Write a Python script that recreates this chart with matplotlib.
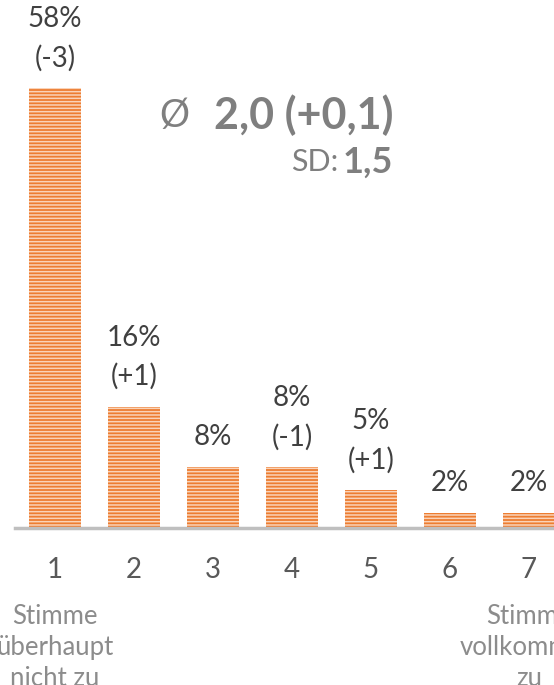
import matplotlib
matplotlib.use('Agg')
import matplotlib.pyplot as plt

plt.rcParams['font.family'] = ['Lato', 'DejaVu Sans']
plt.rcParams['hatch.linewidth'] = 1.1

# data
categories = ['1', '2', '3', '4', '5', '6', '7']
values = [58, 16, 8, 8, 5, 2, 2]
changes = ['(-3)', '(+1)', '', '(-1)', '(+1)', '', '']
low_label = 'Stimme\nüberhaupt\nnicht zu'
high_label = 'Stimme\nvollkommen\nzu'
mean_text = '2,0 (+0,1)'
sd_text = '1,5'

orange = '#ED7D31'
stripe = '#FAD3B8'
PX = 0.72  # points per pixel at dpi 100

fig = plt.figure(figsize=(5.54, 6.85), dpi=100)
ax = fig.add_axes([15/554, 157/685, 539/554, 528/685])

x = list(range(len(categories)))
ax.bar(x, values, width=0.67, color=orange, edgecolor=stripe, linewidth=0, hatch='-----')
ax.set_xlim(-0.506, 6.316)
ax.set_ylim(0, 69.6)

for s in ['top', 'right', 'left']:
    ax.spines[s].set_visible(False)
ax.spines['bottom'].set_color('#BFBFBF')
ax.spines['bottom'].set_linewidth(2.5)
ax.set_yticks([])
ax.set_xticks([])

# category numbers
for i, c in enumerate(categories):
    ax.annotate(c, (i, 0), xytext=(0, -42*PX), textcoords='offset points',
                ha='center', va='center', fontsize=20, color='#595959',
                annotation_clip=False)

# value labels
for i, v in enumerate(values):
    if changes[i]:
        ax.annotate(f'{v}%', (i, v), xytext=(0, 69*PX), textcoords='offset points',
                    ha='center', va='center', fontsize=20, color='#404040')
        ax.annotate(changes[i], (i, v), xytext=(0, 30*PX), textcoords='offset points',
                    ha='center', va='center', fontsize=20, color='#404040')
    else:
        ax.annotate(f'{v}%', (i, v), xytext=(0, 30*PX), textcoords='offset points',
                    ha='center', va='center', fontsize=20, color='#404040')

# scale end labels
for i, lab in [(0, low_label), (6, high_label)]:
    ax.annotate(lab, (i, 0), xytext=(0, -76*PX), textcoords='offset points',
                ha='center', va='top', fontsize=18.5, color='#8C8C8C', linespacing=1.3,
                annotation_clip=False)

# mean / sd box
grey = '#7F7F7F'
fig.text(174/554, 1 - 116/685, 'Ø', ha='center', va='center', fontsize=27, color=grey)
fig.text(393/554, 1 - 115/685, mean_text, ha='right', va='center', fontsize=31,
         fontweight='bold', color=grey)
fig.text(393/554, 1 - 162/685, sd_text, ha='right', va='center', fontsize=26,
         fontweight='bold', color=grey)
fig.text(338/554, 1 - 162/685, 'SD:', ha='right', va='center', fontsize=22, color=grey)

fig.savefig('out.png', dpi=100)
